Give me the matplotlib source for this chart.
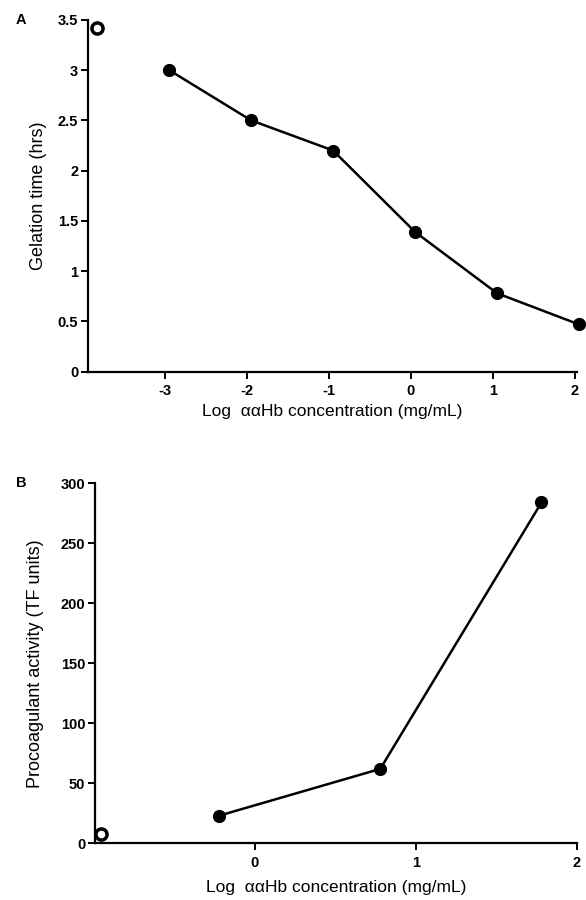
import matplotlib
matplotlib.use("Agg")
import matplotlib.pyplot as plt

plt.rcParams['font.family'] = ['Liberation Sans', 'DejaVu Sans']
plt.rcParams['axes.unicode_minus'] = False

# Panel A: gelation time vs log concentration
log_conc_a = [-2.95, -1.95, -0.95, 0.05, 1.05, 2.05]
gel_time = [3.0, 2.5, 2.2, 1.39, 0.78, 0.47]
ctrl_a = (-3.83, 3.42)
xticks_a = [-3, -2, -1, 0, 1, 2]
yticks_a = [0, 0.5, 1, 1.5, 2, 2.5, 3, 3.5]
ylabels_a = ['0', '0.5', '1', '1.5', '2', '2.5', '3', '3.5']

# Panel B: procoagulant activity vs log concentration
log_conc_b = [-0.22, 0.78, 1.78]
activity = [23, 62, 284]
ctrl_b = (-0.955, 7.5)
xticks_b = [0, 1, 2]
yticks_b = [0, 50, 100, 150, 200, 250, 300]

xlabel = 'Log  \u03b1\u03b1Hb concentration (mg/mL)'

fig = plt.figure(figsize=(5.86, 9.0), dpi=100)
ax1 = fig.add_axes([0.150, 0.587, 0.834, 0.391])
ax2 = fig.add_axes([0.162, 0.063, 0.8225, 0.400])


def style_axes(ax):
    for s in ('top', 'right'):
        ax.spines[s].set_visible(False)
    for s in ('left', 'bottom'):
        ax.spines[s].set_linewidth(1.6)
    ax.tick_params(direction='out', length=5, width=1.4, pad=2, labelsize=10.5)
    ax.tick_params(axis='x', pad=4)
    for lab in ax.get_xticklabels() + ax.get_yticklabels():
        lab.set_fontweight('bold')


ax1.plot(log_conc_a, gel_time, color='black', lw=1.8, marker='o', ms=8.5, clip_on=False)
ax1.plot(*ctrl_a, marker='o', ms=8, mfc='white', mec='black', mew=2.5, clip_on=False)
ax1.set_xlim(-3.94, 2.02)
ax1.set_ylim(0, 3.5)
ax1.set_xticks(xticks_a)
ax1.set_yticks(yticks_a)
ax1.set_yticklabels(ylabels_a)
ax1.set_xlabel(xlabel, fontsize=12.5, labelpad=4)
ax1.set_ylabel('Gelation time (hrs)', fontsize=13, labelpad=8)
style_axes(ax1)

ax2.plot(log_conc_b, activity, color='black', lw=1.8, marker='o', ms=8.5, clip_on=False)
ax2.plot(*ctrl_b, marker='o', ms=8, mfc='white', mec='black', mew=2.5, clip_on=False)
ax2.set_xlim(-0.99, 2.0)
ax2.set_ylim(0, 300)
ax2.set_xticks(xticks_b)
ax2.set_yticks(yticks_b)
ax2.set_xlabel(xlabel, fontsize=12.5, labelpad=7)
ax2.set_ylabel('Procoagulant activity (TF units)', fontsize=13, labelpad=12)
style_axes(ax2)

fig.text(0.027, 0.978, 'A', fontsize=10.5, fontweight='bold', va='center')
fig.text(0.027, 0.463, 'B', fontsize=10.5, fontweight='bold', va='center')

fig.savefig('out.png', dpi=100)
